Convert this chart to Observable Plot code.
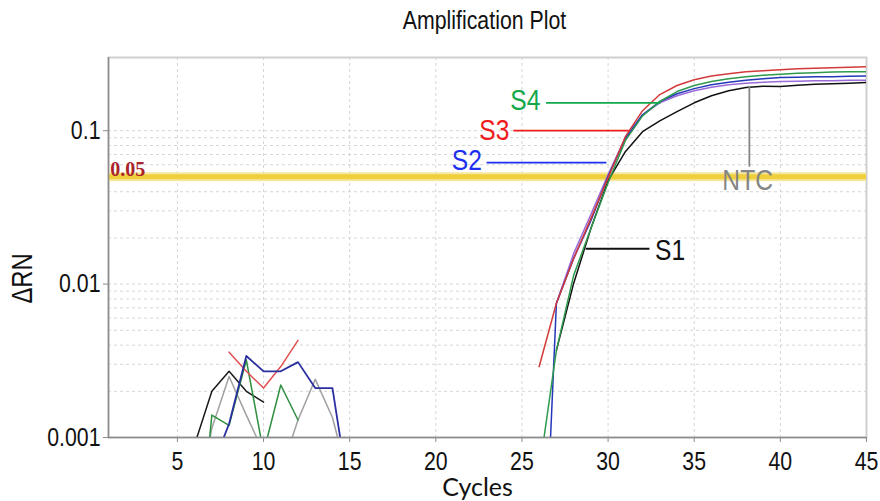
<!DOCTYPE html>
<html><head><meta charset="utf-8">
<script src="https://cdn.jsdelivr.net/npm/d3@7"></script>
<script src="https://cdn.jsdelivr.net/npm/@observablehq/plot@0.6"></script>
<style>body{margin:0;background:#fff;} #chart svg{display:block}</style>
</head><body><div id="chart"></div>
<script>
// ---- data ----
const ampCycles = [26,27,28,29,30,31,32,33,34,35,36,37,38,39,40,41,42,43,44,45];
const s3Red    = [0.0029,0.0075,0.0147,0.0267,0.0494,0.0914,0.135,0.172,0.197,0.215,0.227,0.235,0.242,0.246,0.250,0.253,0.255,0.257,0.259,0.261];
const s4Green  = [0.0006,0.0037,0.0114,0.0230,0.0458,0.0861,0.125,0.155,0.180,0.197,0.209,0.218,0.225,0.230,0.233,0.237,0.239,0.241,0.242,0.242];
const s2Blue   = [0.00002,0.0075,0.0147,0.0259,0.0502,0.0887,0.127,0.155,0.174,0.188,0.199,0.207,0.213,0.218,0.222,0.223,0.225,0.225,0.226,0.227];
const purple   = [null,0.0075,0.0158,0.0284,0.0517,0.0900,0.127,0.152,0.169,0.182,0.192,0.199,0.204,0.207,0.209,0.210,0.212,0.212,0.213,0.213];
const s1Black  = [null,0.0037,0.0101,0.0230,0.0472,0.0730,0.0985,0.116,0.133,0.152,0.169,0.182,0.191,0.195,0.194,0.198,0.201,0.202,0.204,0.206];

const noiseCycles = [6,7,8,9,10,11,12,13,14,15];
const noiseBlack = [0.0009,0.0020,0.0027,0.0020,0.0017,null,null,null,null,null];
const noiseGray1 = [0.0003,0.00115,0.0025,0.0014,0.0008,null,null,null,null,null];
const noiseGray2 = [null,null,null,null,null,0.0006,0.0013,0.0024,0.00135,0.0005];
const noiseGreen = [0.0001,0.0014,0.0012,0.0032,0.0008,0.0022,0.0013,null,null,null];
const noiseBlue  = [null,0.00063,0.00123,0.0034,0.0027,0.0027,0.0031,0.0021,0.0021,0.0004];
const noiseRed   = [null,null,0.0036,0.0027,0.0021,0.0029,0.0043,null,null,null];

const threshold = 0.05;
const thresholdLabel = "0.05";

const xTicks = [5,10,15,20,25,30,35,40,45];
const xGrid = [5,10,15,20,25,30,35,40];
const yTicks = [0.001,0.01,0.1];
const yTickLabels = ["0.001","0.01","0.1"];
const yGrid = [0.002,0.003,0.004,0.005,0.006,0.007,0.008,0.009,0.01,0.02,0.03,0.04,0.05,0.06,0.07,0.08,0.09,0.1];

// annotation labels (data coordinates)
const labelNames = ["S4","S3","S2","S1","NTC"];
const labelColors = ["#12a84a","#ee1c1c","#1c2ff0","#111111","#858585"];
const labelX = [25.2,23.4,21.8,33.6,38.1];
const labelY = [0.157,0.1,0.0638,0.0165,0.0472];
const leadX1 = [26.4,24.5,22.95,28.7,38.2];
const leadY1 = [0.152,0.1,0.0619,0.017,0.196];
const leadX2 = [33.05,31.2,29.9,32.4,38.2];
const leadY2 = [0.152,0.1,0.0619,0.017,0.0583];

const ARIAL = "'Liberation Sans',Arial,sans-serif";

function series(xs, ys) { return xs.map((c,i)=>({c, v: ys[i]})); }
function lineMark(xs, ys, color, w=1.5, op=1) {
  return Plot.line(series(xs, ys), {x:"c", y:"v", stroke: color, strokeWidth: w, strokeOpacity: op, clip: true, defined: d => d.v != null});
}

const labels = labelNames.map((n,i)=>({n, x: labelX[i], y: labelY[i], col: labelColors[i]}));
const leads = labelNames.map((n,i)=>({x1: leadX1[i], y1: leadY1[i], x2: leadX2[i], y2: leadY2[i], col: labelColors[i]}));

const chart = Plot.plot({
  width: 880, height: 501,
  marginTop: 57, marginLeft: 108, marginRight: 14, marginBottom: 64,
  x: {domain: [1,45]},
  y: {type: "log", domain: [0.001, 0.3]},
  style: {background: "#fff", fontFamily: ARIAL},
  marks: [
    Plot.ruleX(xGrid, {stroke: "#d6d6d6", strokeDasharray: "3,3", strokeWidth: 1}),
    Plot.ruleY(yGrid, {stroke: "#d6d6d6", strokeDasharray: "3,3", strokeWidth: 1}),
    Plot.frame({stroke: "#cfcfcf", strokeWidth: 2}),
    Plot.ruleY([threshold], {stroke: "#f6e7a0", strokeWidth: 9}),
    Plot.ruleY([threshold], {stroke: "#f0cf3c", strokeWidth: 5}),
    Plot.text([thresholdLabel], {x: 1.1, y: threshold, text: d => d, textAnchor: "start", lineAnchor: "middle", dy: -7, fill: "#a8232a", fontFamily: "'Liberation Serif','DejaVu Serif',serif", fontWeight: "bold", fontSize: 20}),
    // noise
    lineMark(noiseCycles, noiseGray1, "#a0a0a0"),
    lineMark(noiseCycles, noiseGray2, "#a0a0a0"),
    lineMark(noiseCycles, noiseBlack, "#1a1a1a"),
    lineMark(noiseCycles, noiseGreen, "#2f8f3f"),
    lineMark(noiseCycles, noiseRed, "#e05050"),
    lineMark(noiseCycles, noiseBlue, "#2a2fa0", 1.8),
    // amplification
    lineMark(ampCycles, s1Black, "#111111"),
    lineMark(ampCycles, purple, "#9a6ad8"),
    lineMark(ampCycles, s2Blue, "#2438b8"),
    lineMark(ampCycles, s4Green, "#2e9a4e"),
    lineMark(ampCycles, s3Red, "#d23a3a"),
    // axes
    Plot.ruleX([1], {stroke: "#8c8c8c", strokeWidth: 1.5}),
    Plot.ruleY([0.001], {stroke: "#8c8c8c", strokeWidth: 1.5}),
    Plot.axisX(xTicks, {tickSize: 5, tickPadding: 9, stroke: "#8c8c8c", fill: "#111", fontSize: 26, fontFamily: ARIAL, label: null}),
    Plot.axisY(yTicks, {tickSize: 5, tickPadding: 3, stroke: "#8c8c8c", fill: "#111", fontSize: 26, fontFamily: ARIAL, label: null, tickFormat: d => yTickLabels[yTicks.indexOf(d)]}),
    // annotations
    Plot.link(leads, {x1: "x1", y1: "y1", x2: "x2", y2: "y2", stroke: "col", strokeWidth: 1.8}),
    Plot.text(labels, {x: "x", y: "y", text: "n", fill: "col", fontSize: 30, fontFamily: ARIAL, lineAnchor: "middle"}),
    // titles
    Plot.text(["Amplification Plot"], {frameAnchor: "top", text: d => d, dy: -37, dx: -3, lineAnchor: "middle", fontSize: 26, fontFamily: ARIAL, fill: "#111"}),
    Plot.text(["ΔRN"], {frameAnchor: "left", text: d => d, dx: -86, dy: 56, rotate: -90, lineAnchor: "middle", fontSize: 29, fontFamily: ARIAL, fill: "#111"}),
    Plot.text(["Cycles"], {frameAnchor: "bottom", text: d => d, dx: -10, dy: 50, lineAnchor: "middle", fontSize: 25, fontFamily: "Lato, 'Open Sans', sans-serif", fill: "#111"})
  ]
});
// emulate a narrow (condensed) sans face: compress Liberation Sans text horizontally around its anchor
d3.select(chart).selectAll("text").each(function() {
  const g = this.closest("[font-family]");
  const ff = (this.getAttribute("font-family") || (g && g.getAttribute("font-family")) || "");
  if (ff.indexOf("Liberation Sans") === 0 || ff.indexOf("'Liberation Sans'") === 0) {
    const t = this.getAttribute("transform") || "";
    this.setAttribute("transform", t + " scale(0.82,1)");
  }
});
document.getElementById("chart").appendChild(chart);
</script>
</body></html>
